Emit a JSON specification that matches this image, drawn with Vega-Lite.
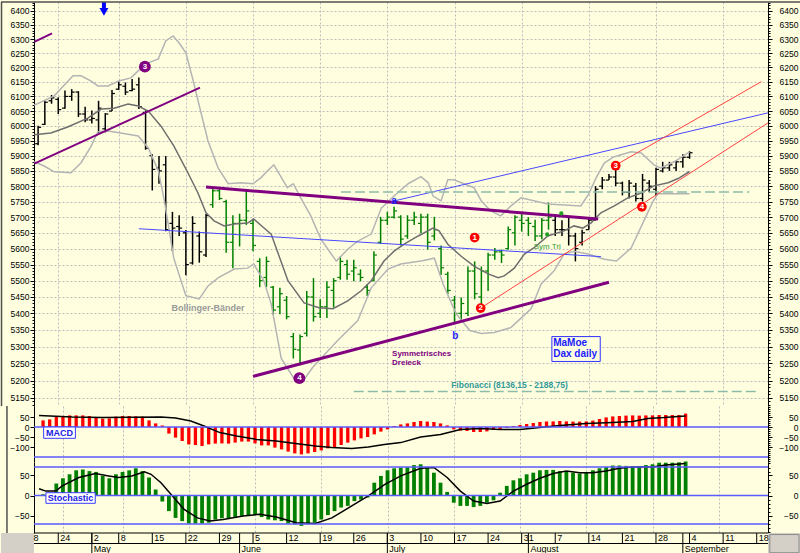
{
"$schema":"https://vega.github.io/schema/vega-lite/v6.json",
"background":"#FFFFE0",
"padding":0,
"spacing":0,
"bounds":"flush",
"config":{"font":"Liberation Sans","view":{"stroke":null},"axis":{"labelFont":"Liberation Sans","labelFontSize":8.5,"labelColor":"#000000","tickColor":"#000000","domainColor":"#000000"}},
"datasets":{
"ohlc":[
{"i":1,"o":5940,"h":6000,"l":5935,"c":5995,"ph":"k"},
{"i":2,"o":6005,"h":6085,"l":6003,"c":6080,"ph":"k"},
{"i":3,"o":6085,"h":6105,"l":6075,"c":6095,"ph":"k"},
{"i":4,"o":6090,"h":6097,"l":6040,"c":6055,"ph":"k"},
{"i":5,"o":6060,"h":6120,"l":6058,"c":6100,"ph":"k"},
{"i":6,"o":6100,"h":6125,"l":6085,"c":6115,"ph":"k"},
{"i":7,"o":6115,"h":6118,"l":6030,"c":6040,"ph":"k"},
{"i":8,"o":6040,"h":6065,"l":6012,"c":6020,"ph":"k"},
{"i":9,"o":6020,"h":6052,"l":6008,"c":6025,"ph":"k"},
{"i":10,"o":6020,"h":6085,"l":5975,"c":6060,"ph":"k"},
{"i":11,"o":5990,"h":6043,"l":5978,"c":6040,"ph":"k"},
{"i":12,"o":6050,"h":6122,"l":6050,"c":6110,"ph":"k"},
{"i":13,"o":6125,"h":6153,"l":6122,"c":6140,"ph":"k"},
{"i":14,"o":6135,"h":6148,"l":6105,"c":6115,"ph":"k"},
{"i":15,"o":6120,"h":6160,"l":6118,"c":6125,"ph":"k"},
{"i":16,"o":6140,"h":6165,"l":6057,"c":6065,"ph":"k"},
{"i":17,"o":6045,"h":6052,"l":5920,"c":5925,"ph":"k"},
{"i":18,"o":5900,"h":5905,"l":5786,"c":5855,"ph":"k"},
{"i":19,"o":5860,"h":5899,"l":5808,"c":5850,"ph":"k"},
{"i":20,"o":5870,"h":5899,"l":5655,"c":5660,"ph":"k"},
{"i":21,"o":5680,"h":5717,"l":5592,"c":5665,"ph":"k"},
{"i":22,"o":5670,"h":5706,"l":5640,"c":5665,"ph":"k"},
{"i":23,"o":5650,"h":5659,"l":5517,"c":5550,"ph":"k"},
{"i":24,"o":5555,"h":5703,"l":5550,"c":5680,"ph":"k"},
{"i":25,"o":5640,"h":5654,"l":5556,"c":5590,"ph":"k"},
{"i":26,"o":5580,"h":5710,"l":5574,"c":5705,"ph":"k"},
{"i":27,"o":5740,"h":5793,"l":5730,"c":5785,"ph":"g"},
{"i":28,"o":5785,"h":5790,"l":5755,"c":5760,"ph":"g"},
{"i":29,"o":5750,"h":5756,"l":5587,"c":5620,"ph":"g"},
{"i":30,"o":5620,"h":5706,"l":5539,"c":5680,"ph":"g"},
{"i":31,"o":5680,"h":5711,"l":5607,"c":5690,"ph":"g"},
{"i":32,"o":5690,"h":5785,"l":5675,"c":5720,"ph":"g"},
{"i":33,"o":5680,"h":5695,"l":5592,"c":5610,"ph":"g"},
{"i":34,"o":5560,"h":5570,"l":5480,"c":5500,"ph":"g"},
{"i":35,"o":5510,"h":5575,"l":5480,"c":5560,"ph":"g"},
{"i":36,"o":5480,"h":5484,"l":5396,"c":5410,"ph":"g"},
{"i":37,"o":5420,"h":5478,"l":5397,"c":5460,"ph":"g"},
{"i":38,"o":5440,"h":5453,"l":5382,"c":5390,"ph":"g"},
{"i":39,"o":5330,"h":5341,"l":5265,"c":5292,"ph":"g"},
{"i":40,"o":5290,"h":5336,"l":5245,"c":5330,"ph":"g"},
{"i":41,"o":5340,"h":5468,"l":5330,"c":5450,"ph":"g"},
{"i":42,"o":5450,"h":5508,"l":5375,"c":5390,"ph":"g"},
{"i":43,"o":5400,"h":5443,"l":5386,"c":5420,"ph":"g"},
{"i":44,"o":5420,"h":5498,"l":5386,"c":5480,"ph":"g"},
{"i":45,"o":5470,"h":5508,"l":5418,"c":5500,"ph":"g"},
{"i":46,"o":5510,"h":5575,"l":5503,"c":5560,"ph":"g"},
{"i":47,"o":5550,"h":5565,"l":5503,"c":5520,"ph":"g"},
{"i":48,"o":5530,"h":5565,"l":5498,"c":5540,"ph":"g"},
{"i":49,"o":5520,"h":5535,"l":5498,"c":5510,"ph":"g"},
{"i":50,"o":5480,"h":5489,"l":5453,"c":5470,"ph":"g"},
{"i":51,"o":5500,"h":5592,"l":5498,"c":5580,"ph":"g"},
{"i":52,"o":5620,"h":5701,"l":5615,"c":5690,"ph":"g"},
{"i":53,"o":5690,"h":5717,"l":5675,"c":5700,"ph":"g"},
{"i":54,"o":5700,"h":5733,"l":5696,"c":5720,"ph":"g"},
{"i":55,"o":5700,"h":5706,"l":5610,"c":5630,"ph":"g"},
{"i":56,"o":5640,"h":5706,"l":5631,"c":5690,"ph":"g"},
{"i":57,"o":5690,"h":5717,"l":5675,"c":5700,"ph":"g"},
{"i":58,"o":5680,"h":5711,"l":5649,"c":5700,"ph":"g"},
{"i":59,"o":5700,"h":5711,"l":5597,"c":5620,"ph":"g"},
{"i":60,"o":5640,"h":5701,"l":5626,"c":5660,"ph":"g"},
{"i":61,"o":5600,"h":5610,"l":5518,"c":5540,"ph":"g"},
{"i":62,"o":5520,"h":5528,"l":5458,"c":5470,"ph":"g"},
{"i":63,"o":5440,"h":5453,"l":5372,"c":5400,"ph":"g"},
{"i":64,"o":5400,"h":5448,"l":5377,"c":5430,"ph":"g"},
{"i":65,"o":5400,"h":5544,"l":5392,"c":5530,"ph":"g"},
{"i":66,"o":5530,"h":5560,"l":5443,"c":5460,"ph":"g"},
{"i":67,"o":5450,"h":5544,"l":5428,"c":5530,"ph":"g"},
{"i":68,"o":5530,"h":5587,"l":5468,"c":5580,"ph":"g"},
{"i":69,"o":5580,"h":5602,"l":5565,"c":5590,"ph":"g"},
{"i":70,"o":5590,"h":5597,"l":5555,"c":5580,"ph":"g"},
{"i":71,"o":5600,"h":5670,"l":5597,"c":5660,"ph":"g"},
{"i":72,"o":5650,"h":5706,"l":5610,"c":5700,"ph":"g"},
{"i":73,"o":5690,"h":5711,"l":5654,"c":5680,"ph":"g"},
{"i":74,"o":5690,"h":5700,"l":5640,"c":5680,"ph":"g"},
{"i":75,"o":5670,"h":5692,"l":5624,"c":5640,"ph":"g"},
{"i":76,"o":5640,"h":5697,"l":5630,"c":5690,"ph":"g"},
{"i":77,"o":5690,"h":5747,"l":5660,"c":5700,"ph":"g"},
{"i":78,"o":5690,"h":5710,"l":5640,"c":5660,"ph":"k"},
{"i":79,"o":5660,"h":5690,"l":5640,"c":5660,"ph":"k"},
{"i":80,"o":5660,"h":5700,"l":5610,"c":5640,"ph":"k"},
{"i":81,"o":5640,"h":5650,"l":5560,"c":5600,"ph":"k"},
{"i":82,"o":5620,"h":5660,"l":5610,"c":5650,"ph":"k"},
{"i":83,"o":5660,"h":5700,"l":5660,"c":5690,"ph":"k"},
{"i":84,"o":5690,"h":5800,"l":5690,"c":5790,"ph":"k"},
{"i":85,"o":5800,"h":5830,"l":5790,"c":5820,"ph":"k"},
{"i":86,"o":5820,"h":5840,"l":5820,"c":5830,"ph":"k"},
{"i":87,"o":5830,"h":5855,"l":5800,"c":5810,"ph":"k"},
{"i":88,"o":5810,"h":5815,"l":5770,"c":5780,"ph":"k"},
{"i":89,"o":5780,"h":5820,"l":5760,"c":5810,"ph":"k"},
{"i":90,"o":5800,"h":5810,"l":5750,"c":5760,"ph":"k"},
{"i":91,"o":5760,"h":5840,"l":5750,"c":5820,"ph":"k"},
{"i":92,"o":5810,"h":5820,"l":5780,"c":5800,"ph":"k"},
{"i":93,"o":5790,"h":5860,"l":5770,"c":5855,"ph":"k"},
{"i":94,"o":5850,"h":5880,"l":5845,"c":5860,"ph":"k"},
{"i":95,"o":5860,"h":5880,"l":5850,"c":5870,"ph":"k"},
{"i":96,"o":5860,"h":5885,"l":5850,"c":5880,"ph":"k"},
{"i":97,"o":5880,"h":5905,"l":5860,"c":5895,"ph":"k"},
{"i":98,"o":5895,"h":5915,"l":5890,"c":5910,"ph":"k"}
],
"bb":[
{"s":"up","i":0.4,"p":6070},{"s":"up","i":3.4,"p":6102},{"s":"up","i":6.2,"p":6171},{"s":"up","i":7.4,"p":6171},{"s":"up","i":8.9,"p":6153},{"s":"up","i":9.9,"p":6136},{"s":"up","i":11.4,"p":6136},{"s":"up","i":13.0,"p":6153},{"s":"up","i":14.8,"p":6164},{"s":"up","i":15.9,"p":6188},{"s":"up","i":17.4,"p":6216},{"s":"up","i":18.9,"p":6230},{"s":"up","i":20.0,"p":6293},{"s":"up","i":21.1,"p":6311},{"s":"up","i":22.0,"p":6286},{"s":"up","i":23.0,"p":6251},{"s":"up","i":24.1,"p":6153},{"s":"up","i":25.3,"p":6040},{"s":"up","i":26.3,"p":5949},{"s":"up","i":27.8,"p":5860},{"s":"up","i":29.3,"p":5808},{"s":"up","i":31.2,"p":5811},{"s":"up","i":33.0,"p":5808},{"s":"up","i":34.2,"p":5828},{"s":"up","i":35.2,"p":5851},{"s":"up","i":36.1,"p":5870},{"s":"up","i":36.9,"p":5840},{"s":"up","i":38.1,"p":5795},{"s":"up","i":39.0,"p":5808},{"s":"up","i":40.1,"p":5762},{"s":"up","i":41.6,"p":5704},{"s":"up","i":43.1,"p":5630},{"s":"up","i":45.4,"p":5561},{"s":"up","i":47.1,"p":5598},{"s":"up","i":48.6,"p":5624},{"s":"up","i":50.6,"p":5646},{"s":"up","i":52.1,"p":5729},{"s":"up","i":54.0,"p":5768},{"s":"up","i":56.1,"p":5808},{"s":"up","i":58.0,"p":5831},{"s":"up","i":59.1,"p":5811},{"s":"up","i":59.8,"p":5768},{"s":"up","i":61.0,"p":5752},{"s":"up","i":62.0,"p":5821},{"s":"up","i":62.9,"p":5821},{"s":"up","i":64.4,"p":5808},{"s":"up","i":65.9,"p":5795},{"s":"up","i":67.0,"p":5752},{"s":"up","i":68.4,"p":5720},{"s":"up","i":69.9,"p":5704},{"s":"up","i":71.4,"p":5736},{"s":"up","i":72.9,"p":5762},{"s":"up","i":76.9,"p":5742},{"s":"up","i":81.8,"p":5736},{"s":"up","i":83.0,"p":5775},{"s":"up","i":84.1,"p":5828},{"s":"up","i":85.3,"p":5876},{"s":"up","i":86.7,"p":5896},{"s":"up","i":89.3,"p":5913},{"s":"up","i":90.8,"p":5909},{"s":"up","i":92.7,"p":5870},{"s":"up","i":93.7,"p":5860},{"s":"up","i":95.7,"p":5880},{"s":"up","i":98.0,"p":5913},
{"s":"lo","i":0.4,"p":5880},{"s":"lo","i":1.9,"p":5866},{"s":"lo","i":3.4,"p":5847},{"s":"lo","i":5.9,"p":5844},{"s":"lo","i":7.4,"p":5877},{"s":"lo","i":8.9,"p":5932},{"s":"lo","i":9.9,"p":5980},{"s":"lo","i":11.4,"p":5983},{"s":"lo","i":13.3,"p":5976},{"s":"lo","i":15.9,"p":5966},{"s":"lo","i":17.4,"p":5926},{"s":"lo","i":18.9,"p":5851},{"s":"lo","i":19.8,"p":5752},{"s":"lo","i":21.2,"p":5570},{"s":"lo","i":23.0,"p":5454},{"s":"lo","i":25.0,"p":5444},{"s":"lo","i":26.3,"p":5484},{"s":"lo","i":27.8,"p":5509},{"s":"lo","i":30.2,"p":5536},{"s":"lo","i":32.2,"p":5539},{"s":"lo","i":33.1,"p":5552},{"s":"lo","i":34.6,"p":5500},{"s":"lo","i":35.7,"p":5429},{"s":"lo","i":37.2,"p":5265},{"s":"lo","i":39.1,"p":5206},{"s":"lo","i":40.6,"p":5203},{"s":"lo","i":41.9,"p":5239},{"s":"lo","i":43.1,"p":5265},{"s":"lo","i":45.6,"p":5318},{"s":"lo","i":48.6,"p":5378},{"s":"lo","i":50.6,"p":5478},{"s":"lo","i":53.1,"p":5536},{"s":"lo","i":55.0,"p":5552},{"s":"lo","i":58.0,"p":5561},{"s":"lo","i":60.0,"p":5570},{"s":"lo","i":61.3,"p":5490},{"s":"lo","i":63.2,"p":5400},{"s":"lo","i":65.3,"p":5348},{"s":"lo","i":67.0,"p":5339},{"s":"lo","i":68.9,"p":5342},{"s":"lo","i":71.4,"p":5357},{"s":"lo","i":72.5,"p":5378},{"s":"lo","i":74.4,"p":5414},{"s":"lo","i":75.9,"p":5490},{"s":"lo","i":77.8,"p":5530},{"s":"lo","i":79.3,"p":5583},{"s":"lo","i":80.8,"p":5592},{"s":"lo","i":82.9,"p":5583},{"s":"lo","i":85.3,"p":5567},{"s":"lo","i":87.1,"p":5561},{"s":"lo","i":89.3,"p":5602},{"s":"lo","i":91.2,"p":5688},{"s":"lo","i":92.6,"p":5752},{"s":"lo","i":93.3,"p":5775},{"s":"lo","i":98.0,"p":5775},
{"s":"ma","i":0.4,"p":5970},{"s":"ma","i":2.9,"p":5976},{"s":"ma","i":5.4,"p":5996},{"s":"ma","i":8.4,"p":6026},{"s":"ma","i":10.4,"p":6057},{"s":"ma","i":12.3,"p":6060},{"s":"ma","i":14.4,"p":6074},{"s":"ma","i":15.9,"p":6067},{"s":"ma","i":17.4,"p":6050},{"s":"ma","i":19.3,"p":5999},{"s":"ma","i":21.2,"p":5933},{"s":"ma","i":23.3,"p":5844},{"s":"ma","i":24.8,"p":5778},{"s":"ma","i":26.0,"p":5714},{"s":"ma","i":27.2,"p":5688},{"s":"ma","i":28.7,"p":5672},{"s":"ma","i":30.2,"p":5678},{"s":"ma","i":32.2,"p":5681},{"s":"ma","i":33.1,"p":5694},{"s":"ma","i":34.6,"p":5666},{"s":"ma","i":35.7,"p":5646},{"s":"ma","i":38.2,"p":5500},{"s":"ma","i":40.6,"p":5432},{"s":"ma","i":42.8,"p":5417},{"s":"ma","i":44.9,"p":5414},{"s":"ma","i":47.1,"p":5438},{"s":"ma","i":49.1,"p":5469},{"s":"ma","i":50.6,"p":5500},{"s":"ma","i":52.5,"p":5561},{"s":"ma","i":54.0,"p":5592},{"s":"ma","i":55.5,"p":5614},{"s":"ma","i":57.6,"p":5640},{"s":"ma","i":59.8,"p":5665},{"s":"ma","i":60.7,"p":5656},{"s":"ma","i":62.0,"p":5614},{"s":"ma","i":64.0,"p":5576},{"s":"ma","i":65.9,"p":5545},{"s":"ma","i":68.0,"p":5521},{"s":"ma","i":69.5,"p":5509},{"s":"ma","i":70.4,"p":5515},{"s":"ma","i":71.9,"p":5539},{"s":"ma","i":73.4,"p":5583},{"s":"ma","i":74.8,"p":5602},{"s":"ma","i":76.9,"p":5640},{"s":"ma","i":79.3,"p":5656},{"s":"ma","i":80.8,"p":5672},{"s":"ma","i":82.1,"p":5665},{"s":"ma","i":83.3,"p":5681},{"s":"ma","i":84.8,"p":5714},{"s":"ma","i":86.8,"p":5736},{"s":"ma","i":88.8,"p":5762},{"s":"ma","i":90.8,"p":5778},{"s":"ma","i":92.7,"p":5801},{"s":"ma","i":94.8,"p":5811},{"s":"ma","i":96.3,"p":5825},{"s":"ma","i":98.0,"p":5848}
],
"tl":[
{"g":"pt","id":"p3","i":26.0,"p":5797},{"g":"pt","id":"p3","i":84.4,"p":5694},
{"g":"pt","id":"p4","i":33.0,"p":5212},{"g":"pt","id":"p4","i":86.0,"p":5495},
{"g":"pm","id":"p1","i":0.43,"p":5874},{"g":"pm","id":"p1","i":25.1,"p":6130},
{"g":"pm","id":"p2","i":0.43,"p":6290},{"g":"pm","id":"p2","i":3.07,"p":6320},
{"g":"bl","id":"b1","i":16.0,"p":5663},{"g":"bl","id":"b1","i":84.8,"p":5575},
{"g":"bl","id":"b2","i":54.0,"p":5752},{"g":"bl","id":"b2","i":109.68,"p":6044},
{"g":"rd","id":"r1","i":66.9,"p":5416},{"g":"rd","id":"r1","i":109.68,"p":6010},
{"g":"rd","id":"r2","i":87.0,"p":5869},{"g":"rd","id":"r2","i":108.7,"p":6151},
{"g":"fb","id":"f1","i":46.1,"p":5781},{"g":"fb","id":"f1","i":106.9,"p":5781},
{"g":"fb","id":"f2","i":48.0,"p":5168},{"g":"fb","id":"f2","i":108.0,"p":5168}
],
"pts":[
{"k":"pu","t":"3","i":16.9,"p":6203},{"k":"pu","t":"4","i":39.9,"p":5207},
{"k":"rd","t":"1","i":66.0,"p":5635},{"k":"rd","t":"2","i":66.9,"p":5416},
{"k":"rd","t":"3","i":87.0,"p":5867},{"k":"rd","t":"4","i":90.9,"p":5733}
],
"dots":[
{"i":78.9,"p":5712},{"i":76.8,"p":5645}
],
"txt":[
{"k":"bol","t":"Bollinger-Bänder","i":26.3,"p":5416},
{"k":"sym","t":"Symmetrisches","i":53.7,"p":5279},
{"k":"sym","t":"Dreieck","i":53.7,"p":5251},
{"k":"fib","t":"Fibonacci (8136,15 - 2188,75)","i":62.5,"p":5186},
{"k":"tri","t":"Sym Tri","i":74.8,"p":5606},
{"k":"ab","t":"a","i":54.0,"p":5753},
{"k":"ab","t":"b","i":63.1,"p":5332},
{"k":"mm","t":"MaMoe","i":77.7,"p":5312},
{"k":"mm","t":"Dax daily","i":77.7,"p":5277}
],
"macd":[
{"i":1,"v":33},{"i":2,"v":38},{"i":3,"v":52},{"i":4,"v":55},{"i":5,"v":58},{"i":6,"v":58},{"i":7,"v":58},{"i":8,"v":55},{"i":9,"v":50},{"i":10,"v":42},
{"i":11,"v":43},{"i":12,"v":52},{"i":13,"v":55},{"i":14,"v":55},{"i":15,"v":53},{"i":16,"v":52},{"i":17,"v":33},{"i":18,"v":18},{"i":19,"v":8},{"i":20,"v":-33},
{"i":21,"v":-53},{"i":22,"v":-70},{"i":23,"v":-87},{"i":24,"v":-90},{"i":25,"v":-95},{"i":26,"v":-87},{"i":27,"v":-83},{"i":28,"v":-82},{"i":29,"v":-83},{"i":30,"v":-78},
{"i":31,"v":-73},{"i":32,"v":-73},{"i":33,"v":-82},{"i":34,"v":-92},{"i":35,"v":-92},{"i":36,"v":-103},{"i":37,"v":-112},{"i":38,"v":-123},{"i":39,"v":-132},{"i":40,"v":-137},
{"i":41,"v":-132},{"i":42,"v":-125},{"i":43,"v":-117},{"i":44,"v":-107},{"i":45,"v":-100},{"i":46,"v":-90},{"i":47,"v":-78},{"i":48,"v":-67},{"i":49,"v":-57},{"i":50,"v":-50},
{"i":51,"v":-37},{"i":52,"v":-23},{"i":53,"v":-12},{"i":54,"v":5},{"i":55,"v":13},{"i":56,"v":18},{"i":57,"v":25},{"i":58,"v":30},{"i":59,"v":27},{"i":60,"v":25},
{"i":61,"v":18},{"i":62,"v":8},{"i":63,"v":-12},{"i":64,"v":-18},{"i":65,"v":-20},{"i":66,"v":-25},{"i":67,"v":-25},{"i":68,"v":-22},{"i":69,"v":-15},{"i":70,"v":-10},
{"i":71,"v":-5},{"i":72,"v":5},{"i":73,"v":10},{"i":74,"v":15},{"i":75,"v":20},{"i":76,"v":25},{"i":77,"v":28},{"i":78,"v":28},{"i":79,"v":30},{"i":80,"v":28},
{"i":81,"v":27},{"i":82,"v":27},{"i":83,"v":28},{"i":84,"v":32},{"i":85,"v":40},{"i":86,"v":48},{"i":87,"v":53},{"i":88,"v":55},{"i":89,"v":57},{"i":90,"v":58},
{"i":91,"v":57},{"i":92,"v":58},{"i":93,"v":58},{"i":94,"v":60},{"i":95,"v":60},{"i":96,"v":60},{"i":97,"v":60},{"i":98,"v":67}
],
"macdl":[
{"i":0.4,"m":58},{"i":5.4,"m":50},{"i":10,"m":48},{"i":18.8,"m":50},{"i":21,"m":45},{"i":23.3,"m":30},{"i":25.3,"m":5},{"i":27.7,"m":-28},{"i":30.2,"m":-45},{"i":33.2,"m":-62},{"i":36.2,"m":-70},{"i":39.1,"m":-83},{"i":42.1,"m":-95},{"i":44.6,"m":-103},{"i":47.6,"m":-107},{"i":50.1,"m":-100},{"i":52.5,"m":-87},{"i":55,"m":-78},{"i":58,"m":-50},{"i":61,"m":-37},{"i":64,"m":-12},{"i":67,"m":-7},{"i":70,"m":-12},{"i":73,"m":-12},{"i":76,"m":-3},{"i":79,"m":8},{"i":83,"m":17},{"i":87,"m":22},{"i":90,"m":27},{"i":92.3,"m":43},{"i":94.7,"m":47},{"i":98,"m":55}
],
"sto":[
{"i":1,"v":3},{"i":2,"v":5},{"i":3,"v":30},{"i":4,"v":43},{"i":5,"v":53},{"i":6,"v":63},{"i":7,"v":65},{"i":8,"v":61},{"i":9,"v":59},{"i":10,"v":49},
{"i":11,"v":43},{"i":12,"v":53},{"i":13,"v":59},{"i":14,"v":63},{"i":15,"v":68},{"i":16,"v":61},{"i":17,"v":45},{"i":18,"v":15},{"i":19,"v":-15},{"i":20,"v":-39},
{"i":21,"v":-56},{"i":22,"v":-64},{"i":23,"v":-70},{"i":24,"v":-70},{"i":25,"v":-70},{"i":26,"v":-68},{"i":27,"v":-60},{"i":28,"v":-57},{"i":29,"v":-57},{"i":30,"v":-56},
{"i":31,"v":-51},{"i":32,"v":-49},{"i":33,"v":-49},{"i":34,"v":-54},{"i":35,"v":-60},{"i":36,"v":-62},{"i":37,"v":-64},{"i":38,"v":-70},{"i":39,"v":-72},{"i":40,"v":-76},
{"i":41,"v":-72},{"i":42,"v":-68},{"i":43,"v":-60},{"i":44,"v":-49},{"i":45,"v":-39},{"i":46,"v":-30},{"i":47,"v":-26},{"i":48,"v":-14},{"i":49,"v":-10},{"i":50,"v":-5},
{"i":51,"v":32},{"i":52,"v":49},{"i":53,"v":63},{"i":54,"v":68},{"i":55,"v":70},{"i":56,"v":71},{"i":57,"v":76},{"i":58,"v":78},{"i":59,"v":71},{"i":60,"v":57},
{"i":61,"v":32},{"i":62,"v":9},{"i":63,"v":-18},{"i":64,"v":-26},{"i":65,"v":-26},{"i":66,"v":-29},{"i":67,"v":-26},{"i":68,"v":-18},{"i":69,"v":-12},{"i":70,"v":7},
{"i":71,"v":24},{"i":72,"v":38},{"i":73,"v":43},{"i":74,"v":53},{"i":75,"v":57},{"i":76,"v":63},{"i":77,"v":64},{"i":78,"v":64},{"i":79,"v":61},{"i":80,"v":60},
{"i":81,"v":57},{"i":82,"v":55},{"i":83,"v":57},{"i":84,"v":63},{"i":85,"v":68},{"i":86,"v":71},{"i":87,"v":75},{"i":88,"v":75},{"i":89,"v":74},{"i":90,"v":73},
{"i":91,"v":73},{"i":92,"v":76},{"i":93,"v":78},{"i":94,"v":82},{"i":95,"v":82},{"i":96,"v":82},{"i":97,"v":83},{"i":98,"v":85}
],
"stol":[
{"i":0.4,"m":17},{"i":1.4,"m":11},{"i":2.9,"m":11},{"i":3.9,"m":24},{"i":6.4,"m":45},{"i":8.9,"m":55},{"i":10.9,"m":49},{"i":12.4,"m":45},{"i":14.4,"m":49},{"i":16.3,"m":59},{"i":17.3,"m":53},{"i":18.8,"m":32},{"i":20.3,"m":3},{"i":22.3,"m":-35},{"i":24.3,"m":-56},{"i":26.2,"m":-64},{"i":28.2,"m":-60},{"i":31.2,"m":-51},{"i":33.7,"m":-47},{"i":36.2,"m":-54},{"i":39.2,"m":-68},{"i":42.1,"m":-70},{"i":44.6,"m":-56},{"i":47.6,"m":-26},{"i":50.1,"m":-1},{"i":52.6,"m":28},{"i":55,"m":49},{"i":58,"m":68},{"i":60,"m":70},{"i":62,"m":45},{"i":64,"m":11},{"i":66,"m":-14},{"i":68,"m":-20},{"i":70,"m":-14},{"i":72,"m":11},{"i":74,"m":28},{"i":76,"m":43},{"i":78,"m":55},{"i":80,"m":61},{"i":82,"m":57},{"i":84,"m":57},{"i":86,"m":61},{"i":88,"m":68},{"i":90,"m":71},{"i":93,"m":71},{"i":95,"m":76},{"i":98,"m":80}
],
"days":[
{"i":0,"t":"8"},{"i":4,"t":"24"},{"i":9,"t":"2"},{"i":13,"t":"8"},{"i":18,"t":"15"},{"i":23,"t":"22"},{"i":28,"t":"29"},{"i":33,"t":"5"},{"i":38,"t":"12"},{"i":43,"t":"19"},{"i":48,"t":"26"},{"i":53,"t":"3"},{"i":58,"t":"10"},{"i":63,"t":"17"},{"i":68,"t":"24"},{"i":73,"t":"31"},{"i":78,"t":"7"},{"i":83,"t":"14"},{"i":88,"t":"21"},{"i":93,"t":"28"},{"i":98,"t":"4"},{"i":103,"t":"11"},{"i":108,"t":"18"}
],
"months":[
{"i":9,"t":"May"},{"i":31,"t":"June"},{"i":53,"t":"July"},{"i":74,"t":"August"},{"i":97,"t":"September"}
]
},
"vconcat":[
{"width":734,"height":404,
"resolve":{"axis":{"y":"independent"}},
"layer":[
{"data":{"name":"ohlc"},"mark":{"type":"rule","strokeWidth":1.5},
 "encoding":{
  "x":{"field":"i","type":"quantitative","scale":{"domain":[0.387,109.68],"nice":false,"zero":false},"axis":{"values":[4,9,13,18,23,28,33,38,43,48,53,58,63,68,73,78,83,88,93,98,103,108],"grid":true,"gridColor":"#bdbdbd","gridDash":[2,2],"labels":false,"ticks":false,"domain":false,"title":null}},
  "y":{"field":"l","type":"quantitative","scale":{"type":"log","domain":[5126.1,6432.4],"nice":false,"zero":false},"axis":{"orient":"left","values":[5150,5200,5250,5300,5350,5400,5450,5500,5550,5600,5650,5700,5750,5800,5850,5900,5950,6000,6050,6100,6150,6200,6250,6300,6350,6400],"format":"d","grid":true,"gridColor":"#bdbdbd","gridDash":[2,2],"tickSize":4,"labelPadding":1,"minExtent":33,"maxExtent":33,"title":null,"labelOverlap":false,"labelFlush":false}},
  "y2":{"field":"h"},
  "color":{"field":"ph","type":"nominal","scale":{"domain":["k","g"],"range":["#000000","#008000"]},"legend":null}}},
{"data":{"name":"ohlc"},"mark":{"type":"rule","strokeWidth":1.2,"xOffset":-3,"x2Offset":0},
 "encoding":{"x":{"field":"i","type":"quantitative"},"x2":{"field":"i"},
  "y":{"field":"o","type":"quantitative","axis":{"orient":"right","values":[5150,5200,5250,5300,5350,5400,5450,5500,5550,5600,5650,5700,5750,5800,5850,5900,5950,6000,6050,6100,6150,6200,6250,6300,6350,6400],"format":"d","grid":false,"tickSize":4,"labelAlign":"right","labelPadding":26,"minExtent":33,"maxExtent":33,"title":null,"labelOverlap":false,"labelFlush":false}},
  "color":{"field":"ph","type":"nominal","legend":null}}},
{"data":{"name":"ohlc"},"mark":{"type":"rule","strokeWidth":1.2,"xOffset":0,"x2Offset":3},
 "encoding":{"x":{"field":"i","type":"quantitative"},"x2":{"field":"i"},
  "y":{"field":"c","type":"quantitative","axis":{"orient":"left","values":[5130,5140,5160,5170,5180,5190,5210,5220,5230,5240,5260,5270,5280,5290,5310,5320,5330,5340,5360,5370,5380,5390,5410,5420,5430,5440,5460,5470,5480,5490,5510,5520,5530,5540,5560,5570,5580,5590,5610,5620,5630,5640,5660,5670,5680,5690,5710,5720,5730,5740,5760,5770,5780,5790,5810,5820,5830,5840,5860,5870,5880,5890,5910,5920,5930,5940,5960,5970,5980,5990,6010,6020,6030,6040,6060,6070,6080,6090,6110,6120,6130,6140,6160,6170,6180,6190,6210,6220,6230,6240,6260,6270,6280,6290,6310,6320,6330,6340,6360,6370,6380,6390,6410,6420,6430],"labels":false,"domain":false,"grid":false,"tickSize":2,"title":null,"minExtent":33,"maxExtent":33}},
  "color":{"field":"ph","type":"nominal","legend":null}}},
{"data":{"values":[{"p":6000}]},"mark":{"type":"rule","strokeOpacity":0},
 "encoding":{"y":{"field":"p","type":"quantitative","axis":{"orient":"right","values":[5130,5140,5160,5170,5180,5190,5210,5220,5230,5240,5260,5270,5280,5290,5310,5320,5330,5340,5360,5370,5380,5390,5410,5420,5430,5440,5460,5470,5480,5490,5510,5520,5530,5540,5560,5570,5580,5590,5610,5620,5630,5640,5660,5670,5680,5690,5710,5720,5730,5740,5760,5770,5780,5790,5810,5820,5830,5840,5860,5870,5880,5890,5910,5920,5930,5940,5960,5970,5980,5990,6010,6020,6030,6040,6060,6070,6080,6090,6110,6120,6130,6140,6160,6170,6180,6190,6210,6220,6230,6240,6260,6270,6280,6290,6310,6320,6330,6340,6360,6370,6380,6390,6410,6420,6430],"labels":false,"domain":false,"grid":false,"tickSize":2,"title":null,"minExtent":33,"maxExtent":33}}}},
{"data":{"name":"bb"},"transform":[{"filter":"datum.s != 'ma'"}],"mark":{"type":"line","color":"#b4b4b4","strokeWidth":1.5},
 "encoding":{"x":{"field":"i","type":"quantitative"},"y":{"field":"p","type":"quantitative","axis":null},"detail":{"field":"s"}}},
{"data":{"name":"bb"},"transform":[{"filter":"datum.s == 'ma'"}],"mark":{"type":"line","color":"#6e6e6e","strokeWidth":1.5},
 "encoding":{"x":{"field":"i","type":"quantitative"},"y":{"field":"p","type":"quantitative","axis":null}}},
{"data":{"name":"tl"},"transform":[{"filter":"datum.g == 'pt'"}],"mark":{"type":"line","color":"#800080","strokeWidth":3},
 "encoding":{"x":{"field":"i","type":"quantitative"},"y":{"field":"p","type":"quantitative","axis":null},"detail":{"field":"id"}}},
{"data":{"name":"tl"},"transform":[{"filter":"datum.g == 'pm'"}],"mark":{"type":"line","color":"#800080","strokeWidth":2},
 "encoding":{"x":{"field":"i","type":"quantitative"},"y":{"field":"p","type":"quantitative","axis":null},"detail":{"field":"id"}}},
{"data":{"name":"tl"},"transform":[{"filter":"datum.g == 'bl'"}],"mark":{"type":"line","color":"#4848ff","strokeWidth":1},
 "encoding":{"x":{"field":"i","type":"quantitative"},"y":{"field":"p","type":"quantitative","axis":null},"detail":{"field":"id"}}},
{"data":{"name":"tl"},"transform":[{"filter":"datum.g == 'rd'"}],"mark":{"type":"line","color":"#ff4040","strokeWidth":1},
 "encoding":{"x":{"field":"i","type":"quantitative"},"y":{"field":"p","type":"quantitative","axis":null},"detail":{"field":"id"}}},
{"data":{"name":"tl"},"transform":[{"filter":"datum.g == 'fb'"}],"mark":{"type":"line","color":"#8cbca8","strokeWidth":1.5,"strokeDash":[10,4]},
 "encoding":{"x":{"field":"i","type":"quantitative"},"y":{"field":"p","type":"quantitative","axis":null},"detail":{"field":"id"}}},
{"data":{"name":"dots"},"mark":{"type":"point","filled":true,"opacity":1,"size":18,"color":"#22a022"},
 "encoding":{"x":{"field":"i","type":"quantitative"},"y":{"field":"p","type":"quantitative","axis":null}}},
{"data":{"name":"pts"},"transform":[{"filter":"datum.k == 'pu'"}],"mark":{"type":"point","filled":true,"opacity":1,"size":140,"color":"#800080"},
 "encoding":{"x":{"field":"i","type":"quantitative"},"y":{"field":"p","type":"quantitative","axis":null}}},
{"data":{"name":"pts"},"transform":[{"filter":"datum.k == 'rd'"}],"mark":{"type":"point","filled":true,"opacity":1,"size":95,"color":"#ff0000"},
 "encoding":{"x":{"field":"i","type":"quantitative"},"y":{"field":"p","type":"quantitative","axis":null}}},
{"data":{"name":"pts"},"mark":{"type":"text","color":"#ffffff","fontWeight":"bold","fontSize":8,"align":"center","baseline":"middle"},
 "encoding":{"x":{"field":"i","type":"quantitative"},"y":{"field":"p","type":"quantitative","axis":null},"text":{"field":"t"}}},
{"data":{"name":"txt"},"transform":[{"filter":"datum.k == 'bol'"}],"mark":{"type":"text","color":"#999999","fontWeight":"bold","fontSize":9,"align":"center","baseline":"middle"},
 "encoding":{"x":{"field":"i","type":"quantitative"},"y":{"field":"p","type":"quantitative","axis":null},"text":{"field":"t"}}},
{"data":{"name":"txt"},"transform":[{"filter":"datum.k == 'sym'"}],"mark":{"type":"text","color":"#800080","fontWeight":"bold","fontSize":8,"align":"left","baseline":"middle"},
 "encoding":{"x":{"field":"i","type":"quantitative"},"y":{"field":"p","type":"quantitative","axis":null},"text":{"field":"t"}}},
{"data":{"name":"txt"},"transform":[{"filter":"datum.k == 'fib'"}],"mark":{"type":"text","color":"#339999","fontWeight":"bold","fontSize":8.5,"align":"left","baseline":"middle"},
 "encoding":{"x":{"field":"i","type":"quantitative"},"y":{"field":"p","type":"quantitative","axis":null},"text":{"field":"t"}}},
{"data":{"name":"txt"},"transform":[{"filter":"datum.k == 'tri'"}],"mark":{"type":"text","color":"#339933","fontSize":8,"align":"left","baseline":"middle"},
 "encoding":{"x":{"field":"i","type":"quantitative"},"y":{"field":"p","type":"quantitative","axis":null},"text":{"field":"t"}}},
{"data":{"name":"txt"},"transform":[{"filter":"datum.k == 'ab'"}],"mark":{"type":"text","color":"#2020ff","fontWeight":"bold","fontSize":10,"align":"center","baseline":"middle"},
 "encoding":{"x":{"field":"i","type":"quantitative"},"y":{"field":"p","type":"quantitative","axis":null},"text":{"field":"t"}}},
{"data":{"values":[{"i":77.5,"i2":84.7,"p":5330,"p2":5256}]},"mark":{"type":"rect","fill":"#FFFFE0","stroke":"#3030ff","strokeWidth":1},
 "encoding":{"x":{"field":"i","type":"quantitative"},"x2":{"field":"i2"},"y":{"field":"p","type":"quantitative","axis":null},"y2":{"field":"p2"}}},
{"data":{"name":"txt"},"transform":[{"filter":"datum.k == 'mm'"}],"mark":{"type":"text","color":"#2020ff","fontWeight":"bold","fontSize":10,"align":"left","baseline":"middle"},
 "encoding":{"x":{"field":"i","type":"quantitative"},"y":{"field":"p","type":"quantitative","axis":null},"text":{"field":"t"}}},
{"data":{"values":[{"i":10.8}]},"mark":{"type":"rule","color":"#0000ff","strokeWidth":4},
 "encoding":{"x":{"field":"i","type":"quantitative"},"y":{"datum":6432.4,"type":"quantitative","axis":null},"y2":{"datum":6405}}},
{"data":{"values":[{"i":10.8,"p":6397}]},"mark":{"type":"point","shape":"triangle-down","filled":true,"opacity":1,"size":80,"color":"#0000ff"},
 "encoding":{"x":{"field":"i","type":"quantitative"},"y":{"field":"p","type":"quantitative","axis":null}}},
{"data":{"values":[{"a":-4.527,"b":114.59}]},"mark":{"type":"rule","color":"#505050","strokeWidth":1.5},
 "encoding":{"x":{"field":"a","type":"quantitative"},"x2":{"field":"b"},"y":{"datum":6432.4,"type":"quantitative","axis":null}}},
{"data":{"values":[{"a":-4.45}]},"mark":{"type":"rule","color":"#505050","strokeWidth":1.5},
 "encoding":{"x":{"field":"a","type":"quantitative"}}}
]},
{"width":734,"height":56,
"resolve":{"axis":{"y":"independent"}},
"layer":[
{"data":{"name":"macd"},"mark":{"type":"bar","width":3.3,"color":"#ff0000"},
 "encoding":{
  "x":{"field":"i","type":"quantitative","scale":{"domain":[0.387,109.68],"nice":false,"zero":false},"axis":{"values":[4,9,13,18,23,28,33,38,43,48,53,58,63,68,73,78,83,88,93,98,103,108],"grid":true,"gridColor":"#bdbdbd","gridDash":[2,2],"labels":false,"ticks":false,"domain":false,"title":null}},
  "y":{"field":"v","type":"quantitative","scale":{"domain":[-175,105],"nice":false,"zero":false},"axis":{"orient":"left","values":[50,0,-50,-100],"grid":false,"tickSize":4,"labelPadding":1,"minExtent":33,"maxExtent":33,"title":null,"labelOverlap":false,"labelFlush":false}},
  "y2":{"datum":0}}},
{"data":{"name":"macdl"},"mark":{"type":"line","color":"#000000","strokeWidth":1.5},
 "encoding":{"x":{"field":"i","type":"quantitative"},
  "y":{"field":"m","type":"quantitative","axis":{"orient":"right","values":[50,0,-50,-100],"grid":false,"tickSize":4,"labelAlign":"right","labelPadding":26,"minExtent":33,"maxExtent":33,"title":null,"labelOverlap":false,"labelFlush":false}}}},
{"data":{"values":[{"v":0},{"v":-150}]},"mark":{"type":"rule","color":"#5a5aff","strokeWidth":1.5},
 "encoding":{"y":{"field":"v","type":"quantitative","axis":{"orient":"right","values":[-170,-160,-150,-140,-130,-120,-110,-90,-80,-70,-60,-40,-30,-20,-10,10,20,30,40,60,70,80,90,100],"labels":false,"domain":false,"grid":false,"tickSize":2,"title":null,"minExtent":33,"maxExtent":33}}}},
{"data":{"values":[{"i":1.09,"i2":5.88,"v":0,"v2":-56.5}]},"mark":{"type":"rect","fill":"#ffffff","stroke":"#3a3aff","strokeWidth":1},
 "encoding":{"x":{"field":"i","type":"quantitative"},"x2":{"field":"i2"},"y":{"field":"v","type":"quantitative","axis":null},"y2":{"field":"v2"}}},
{"data":{"values":[{"i":3.48,"v":-28,"t":"MACD"}]},"mark":{"type":"text","color":"#2020e0","fontWeight":"bold","fontSize":9,"align":"center","baseline":"middle"},
 "encoding":{"x":{"field":"i","type":"quantitative"},"y":{"field":"v","type":"quantitative","axis":null},"text":{"field":"t"}}},
{"data":{"values":[{"a":-4.45}]},"mark":{"type":"rule","color":"#505050","strokeWidth":1.5},
 "encoding":{"x":{"field":"a","type":"quantitative"}}}
]},
{"width":734,"height":71,
"resolve":{"axis":{"y":"independent"}},
"layer":[
{"data":{"name":"sto"},"mark":{"type":"bar","width":3.8,"color":"#008000"},
 "encoding":{
  "x":{"field":"i","type":"quantitative","scale":{"domain":[0.387,109.68],"nice":false,"zero":false},"axis":{"values":[4,9,13,18,23,28,33,38,43,48,53,58,63,68,73,78,83,88,93,98,103,108],"grid":true,"gridColor":"#bdbdbd","gridDash":[2,2],"labels":false,"ticks":false,"domain":false,"title":null}},
  "y":{"field":"v","type":"quantitative","scale":{"domain":[-93.75,83.75],"nice":false,"zero":false},"axis":{"orient":"left","values":[50,0,-50],"grid":false,"tickSize":4,"labelPadding":1,"minExtent":33,"maxExtent":33,"title":null,"labelOverlap":false,"labelFlush":false}},
  "y2":{"datum":0}}},
{"data":{"name":"stol"},"mark":{"type":"line","color":"#000000","strokeWidth":1.5},
 "encoding":{"x":{"field":"i","type":"quantitative"},
  "y":{"field":"m","type":"quantitative","axis":{"orient":"right","values":[50,0,-50],"grid":false,"tickSize":4,"labelAlign":"right","labelPadding":26,"minExtent":33,"maxExtent":33,"title":null,"labelOverlap":false,"labelFlush":false}}}},
{"data":{"values":[{"v":71},{"v":0},{"v":-71}]},"mark":{"type":"rule","color":"#5a5aff","strokeWidth":1.5},
 "encoding":{"y":{"field":"v","type":"quantitative","axis":{"orient":"right","values":[-90,-80,-70,-60,-40,-30,-20,-10,10,20,30,40,60,70,80],"labels":false,"domain":false,"grid":false,"tickSize":2,"title":null,"minExtent":33,"maxExtent":33}}}},
{"data":{"values":[{"i":1.43,"i2":8.88,"v":7,"v2":-19.5}]},"mark":{"type":"rect","fill":"#ffffff","stroke":"#3a3aff","strokeWidth":1},
 "encoding":{"x":{"field":"i","type":"quantitative"},"x2":{"field":"i2"},"y":{"field":"v","type":"quantitative","axis":null},"y2":{"field":"v2"}}},
{"data":{"values":[{"i":5.15,"v":-6.25,"t":"Stochastic"}]},"mark":{"type":"text","color":"#2020e0","fontWeight":"bold","fontSize":9,"align":"center","baseline":"middle"},
 "encoding":{"x":{"field":"i","type":"quantitative"},"y":{"field":"v","type":"quantitative","axis":null},"text":{"field":"t"}}},
{"data":{"values":[{"a":-4.45}]},"mark":{"type":"rule","color":"#505050","strokeWidth":1.5},
 "encoding":{"x":{"field":"a","type":"quantitative"}}}
]},
{"width":734,"height":21,
"layer":[
{"data":{"values":[{"a":-4.527,"b":0.387},{"a":109.68,"b":114.59}]},"mark":{"type":"rect","fill":"#D4D0C8"},
 "encoding":{
  "x":{"field":"a","type":"quantitative","scale":{"domain":[0.387,109.68],"nice":false,"zero":false},"axis":null},
  "x2":{"field":"b"},
  "y":{"datum":0,"type":"quantitative","scale":{"domain":[0,2],"nice":false,"zero":false},"axis":null},
  "y2":{"datum":2}}},
{"data":{"values":[{"a":109.95,"b":114.3}]},"mark":{"type":"rect","fill":"#D4D0C8","stroke":"#8a8a8a","strokeWidth":1},
 "encoding":{"x":{"field":"a","type":"quantitative"},"x2":{"field":"b"},"y":{"datum":0.12,"type":"quantitative"},"y2":{"datum":1.85}}},
{"data":{"name":"days"},"transform":[{"filter":"datum.i > 0"}],"mark":{"type":"rule","color":"#000000","strokeWidth":1},
 "encoding":{"x":{"field":"i","type":"quantitative"},"y":{"datum":1,"type":"quantitative"},"y2":{"datum":2}}},
{"data":{"name":"months"},"mark":{"type":"rule","color":"#000000","strokeWidth":1},
 "encoding":{"x":{"field":"i","type":"quantitative"},"y":{"datum":0,"type":"quantitative"},"y2":{"datum":2}}},
{"data":{"values":[{"a":0.387,"b":109.68}]},"mark":{"type":"rule","color":"#000000","strokeWidth":1},
 "encoding":{"x":{"field":"a","type":"quantitative"},"x2":{"field":"b"},"y":{"datum":1,"type":"quantitative"}}},
{"data":{"values":[{"a":0.387,"b":109.68}]},"mark":{"type":"rule","color":"#000000","strokeWidth":1},
 "encoding":{"x":{"field":"a","type":"quantitative"},"x2":{"field":"b"},"y":{"datum":2,"type":"quantitative"}}},
{"data":{"name":"days"},"mark":{"type":"text","color":"#000000","fontSize":9,"align":"left","baseline":"middle","dx":2},
 "encoding":{"x":{"field":"i","type":"quantitative"},"y":{"datum":1.5,"type":"quantitative"},"text":{"field":"t"}}},
{"data":{"name":"months"},"mark":{"type":"text","color":"#000000","fontSize":9,"align":"left","baseline":"middle","dx":2},
 "encoding":{"x":{"field":"i","type":"quantitative"},"y":{"datum":0.5,"type":"quantitative"},"text":{"field":"t"}}}
]}
]
}
